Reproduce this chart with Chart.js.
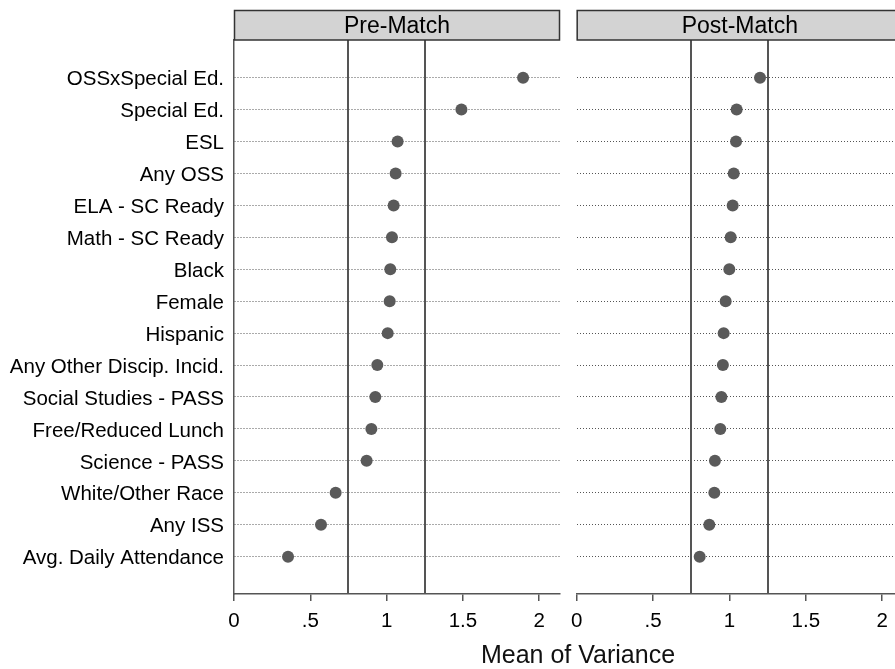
<!DOCTYPE html>
<html>
<head>
<meta charset="utf-8">
<script src="https://cdn.jsdelivr.net/npm/chart.js@4.4.1/dist/chart.umd.min.js"></script>
<style>
  html, body { margin: 0; padding: 0; background: #fff; overflow: hidden; }
  body { width: 895px; height: 669px; position: relative; }
  .panel { position: absolute; top: 0; height: 669px; }
  #preWrap { left: 0; width: 566px; }
  #postWrap { left: 563px; width: 346px; }
  #xTitle {
    position: absolute; left: 378px; width: 400px; top: 640px;
    text-align: center; color: #111;
    font: 25px "Liberation Sans", Arial, sans-serif;
  }
</style>
</head>
<body>
<div class="panel" id="preWrap"><canvas id="preChart"></canvas></div>
<div class="panel" id="postWrap"><canvas id="postChart"></canvas></div>
<div id="xTitle">Mean of Variance</div>
<script>
const categories = [
  "OSSxSpecial Ed.", "Special Ed.", "ESL", "Any OSS", "ELA - SC Ready",
  "Math - SC Ready", "Black", "Female", "Hispanic", "Any Other Discip. Incid.",
  "Social Studies - PASS", "Free/Reduced Lunch", "Science - PASS",
  "White/Other Race", "Any ISS", "Avg. Daily Attendance"
];
const preMatch = [1.894, 1.490, 1.072, 1.059, 1.046, 1.035, 1.024, 1.020,
  1.007, 0.939, 0.926, 0.900, 0.869, 0.666, 0.570, 0.354];
const postMatch = [1.200, 1.047, 1.043, 1.028, 1.021, 1.008, 0.999, 0.975,
  0.962, 0.957, 0.947, 0.940, 0.905, 0.901, 0.868, 0.805];
const xTicks = [0, 0.5, 1, 1.5, 2];
const xTickLabels = ["0", ".5", "1", "1.5", "2"];
const refLines = [0.75, 1.25];

const FONT = '"Liberation Sans", Arial, sans-serif';

// grey strip with the panel name + the two reference lines
const panelDecor = {
  id: "panelDecor",
  beforeDatasetsDraw(chart) {
    const { ctx, chartArea: a, scales: { x } } = chart;
    ctx.save();
    ctx.strokeStyle = "#555";
    ctx.lineWidth = 2;
    refLines.forEach((v) => {
      const px = Math.round(x.getPixelForValue(v));
      ctx.beginPath();
      ctx.moveTo(px, a.top);
      ctx.lineTo(px, a.bottom);
      ctx.stroke();
    });
    ctx.restore();
  },
  afterDraw(chart, args, opts) {
    const { ctx, chartArea: a } = chart;
    ctx.save();
    ctx.fillStyle = "#d3d3d3";
    ctx.fillRect(a.left, 10, a.right - a.left, 30);
    ctx.strokeStyle = "#333";
    ctx.lineWidth = 1.5;
    ctx.strokeRect(a.left + 0.5, 10.5, a.right - a.left - 1, 29.5);
    ctx.fillStyle = "#000";
    ctx.font = "23px " + FONT;
    ctx.textAlign = "center";
    ctx.textBaseline = "alphabetic";
    ctx.fillText(opts.title, (a.left + a.right) / 2, 33);
    ctx.restore();
  },
};

function makePanel(canvasId, values, title, showLabels, yWidth) {
  return new Chart(document.getElementById(canvasId), {
    type: "scatter",
    data: {
      datasets: [{
        data: values.map((v, i) => ({ x: v, y: i })),
        pointRadius: 6,
        pointHoverRadius: 6,
        pointBackgroundColor: "#5a5a5a",
        pointBorderWidth: 0,
      }],
    },
    options: {
      responsive: true,
      maintainAspectRatio: false,
      animation: false,
      events: [],
      layout: { padding: { top: 40, right: 2, left: 0, bottom: 0 } },
      plugins: {
        legend: { display: false },
        tooltip: { enabled: false },
        panelDecor: { title },
      },
      scales: {
        x: {
          type: "linear",
          min: 0,
          max: 2.136,
          afterBuildTicks: (s) => { s.ticks = xTicks.map((v) => ({ value: v })); },
          afterFit: (s) => { s.height = 75; },
          ticks: {
            callback: (v, i) => xTickLabels[i],
            font: { size: 20.5, family: FONT },
            color: "#000",
            padding: 8,
            maxRotation: 0,
            autoSkip: false,
          },
          grid: { drawOnChartArea: false, drawTicks: true, tickLength: 7, color: "#555", lineWidth: 1.5 },
          border: { display: true, color: "#555", width: 1.5 },
        },
        y: {
          type: "linear",
          reverse: true,
          min: -1.18,
          max: categories.length - 1 + 1.17,
          afterBuildTicks: (s) => { s.ticks = categories.map((c, i) => ({ value: i })); },
          afterFit: (s) => { s.width = yWidth; },
          ticks: {
            display: showLabels,
            callback: (v, i) => categories[i],
            font: { size: 20.5, family: FONT },
            color: "#000",
            padding: 10,
            labelOffset: 2,
            autoSkip: false,
          },
          grid: { drawTicks: false, color: "#555", lineWidth: 1 },
          border: { display: showLabels, color: "#555", width: 1.5, dash: [1, 2] },
        },
      },
    },
    plugins: [panelDecor],
  });
}

makePanel("preChart", preMatch, "Pre-Match", true, 234);
makePanel("postChart", postMatch, "Post-Match", false, 12);
</script>
</body>
</html>
